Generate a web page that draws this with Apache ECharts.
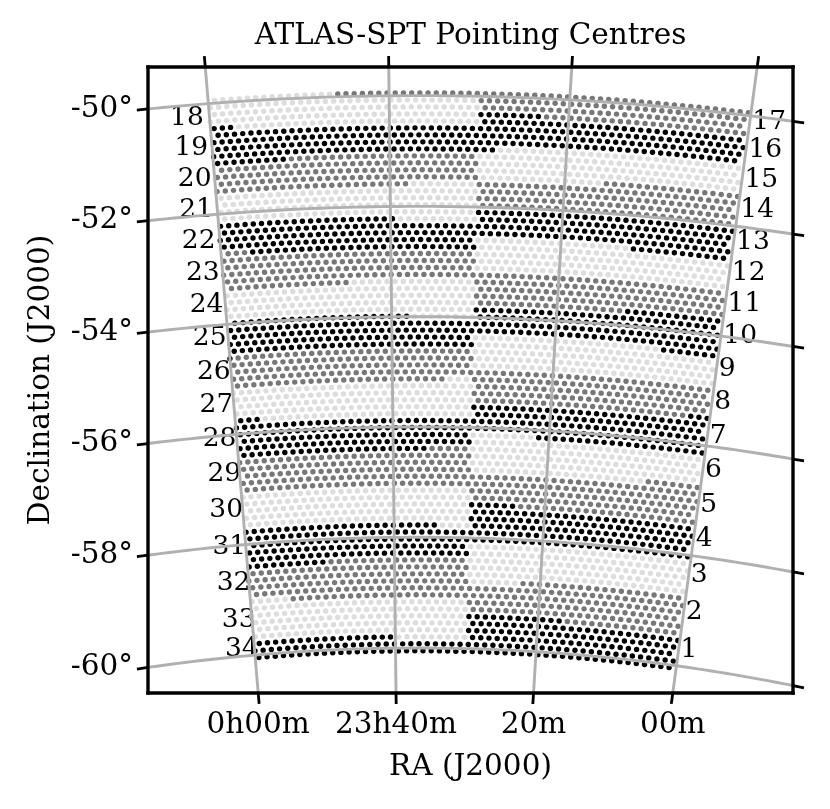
<!DOCTYPE html>
<html><head><meta charset="utf-8">
<style>html,body{margin:0;padding:0;background:#fff}#c{width:830px;height:809px}</style>
<script src="https://cdn.jsdelivr.net/npm/echarts@6/dist/echarts.min.js"></script>
</head><body><div id="c"></div>
<script>
// ---- data ----
const titleText = 'ATLAS-SPT Pointing Centres';
const raTicks = [360, 355, 350, 345];
const raTickLabels = ['0h00m', '23h40m', '20m', '00m'];
const decTicks = [-50, -52, -54, -56, -58, -60];
const decTickLabels = ['-50°', '-52°', '-54°', '-56°', '-58°', '-60°'];
// pointing rows: [first row, last row, shade] K black, G grey, L light
const leftBands = [[0,4,'L'],[5,8,'K'],[9,13,'G'],[14,17,'L'],[18,22,'K'],[23,27,'G'],[28,31,'L'],[32,36,'K'],[37,41,'G'],[42,46,'L'],[47,51,'K'],[52,56,'G'],[57,61,'L'],[62,66,'K'],[67,72,'G'],[73,77,'L'],[78,80,'K']];
const rightBands = [[0,3,'G'],[4,8,'K'],[9,12,'L'],[13,16,'G'],[17,21,'K'],[22,25,'L'],[26,30,'G'],[31,34,'K'],[35,39,'L'],[40,44,'G'],[45,49,'K'],[50,54,'L'],[55,59,'G'],[60,64,'K'],[65,69,'L'],[70,74,'G'],[75,80,'K']];
// partial rows: [row, RA from, RA to, shade]
const partialRows = [[0,352.5,356.5,'G'],[4,359.26,361,'K'],[9,358,361,'K'],[13,352.5,354.46,'L'],[18,352.5,354.85,'L'],[22,359.3,361,'G'],[27,352.5,356.3,'L'],[32,352.5,354.48,'L'],[37,359.9,361,'K'],[41,352.5,353.3,'L'],[46,359.06,361,'K'],[51,352.5,353.94,'G'],[62,352.5,353.59,'L'],[67,357.18,361,'K'],[72,358.64,361,'L'],[78,352.5,355.14,'L'],
 [3,350.74,352.5,'K'],[8,344,351.97,'L'],[12,344,348.82,'G'],[21,348.09,352.5,'L'],[30,344,348.06,'K'],[35,344,346.87,'K'],[44,344,345.64,'K'],[49,350.53,352.5,'L'],[54,344,346.96,'G'],[59,350.9,352.5,'K'],[70,350.6,352.5,'L'],[75,344,349.07,'G']];
const rightFieldNames = ['1','2','3','4','5','6','7','8','9','10','11','12','13','14','15','16','17'];
const rightFieldDecs = [-59.71,-59.03,-58.34,-57.69,-57.07,-56.43,-55.81,-55.19,-54.59,-53.99,-53.41,-52.84,-52.28,-51.71,-51.15,-50.62,-50.11];
const leftFieldNames = ['18','19','20','21','22','23','24','25','26','27','28','29','30','31','32','33','34'];
const leftFieldDecs = [-50.25,-50.8,-51.36,-51.92,-52.48,-53.06,-53.64,-54.24,-54.86,-55.47,-56.09,-56.72,-57.37,-58.04,-58.7,-59.38,-59.89];
const leftFieldRas = [360.16,360.11,360.09,360.13,360.13,360.09,360.06,360.05,360.01,360.02,360.01,359.95,359.99,359.99,359.95,359.88,359.85];

// ---- survey lattice ----
const firstRowDec = -49.95, rowStepDec = 0.12625, rowCount = 81;
const dotStep = 0.146, raEast = 360.0, raWest = 345.05, raSplit = 352.5, raPhase = 352.56;

// ---- gnomonic projection ----
const ra0 = 354.2, dec0 = -55, D = Math.PI/180;
function proj(ra, dec) {
  const a=(ra-ra0)*D, d=dec*D, d0=dec0*D;
  const c = Math.sin(d)*Math.sin(d0)+Math.cos(d)*Math.cos(d0)*Math.cos(a);
  const x = -Math.cos(d)*Math.sin(a)/c;
  const y = (Math.sin(d)*Math.cos(d0)-Math.cos(d)*Math.sin(d0)*Math.cos(a))/c;
  return [x/D, y/D];
}
const xMin=-4.821, xMax=6.696, yMin=-5.829, yMax=5.532, tickLen=0.2;

// shade lookup
function shade(k, ra) {
  for (const p of partialRows) if (p[0]===k && ra>=p[1] && ra<p[2]) return p[3];
  const bands = ra>=raSplit ? leftBands : rightBands;
  for (const b of bands) if (k>=b[0] && k<=b[1]) return b[2];
  return 'L';
}
const dots = {K:[],G:[],L:[]};
for (let k=0;k<rowCount;k++){
  const dec = firstRowDec-k*rowStepDec, step = dotStep/Math.cos(dec*D);
  const start = raPhase+(k%2?step/2:0);
  for (let i=-60;i<=60;i++){
    const ra = start+i*step;
    if (ra<raWest||ra>raEast) continue;
    dots[shade(k,ra)].push(proj(ra,dec));
  }
}
function lineSeries(data,color,width,z,clip){
  return {type:'line',data,symbol:'none',silent:true,clip,z,animation:false,lineStyle:{color,width,cap:'butt',join:'miter',opacity:1}};
}
function dotSeries(data,color){
  return {type:'scatter',data,symbol:'circle',symbolSize:5.4,itemStyle:{color,opacity:1},silent:true,z:3,animation:false,progressive:0,large:false};
}
const series=[dotSeries(dots.L,'#dddddd'),dotSeries(dots.G,'#777777'),dotSeries(dots.K,'#000000')];

function crossings(pts,test){
  const out=[];
  for(let i=1;i<pts.length;i++){
    const a=test(pts[i-1]),b=test(pts[i]);
    if(a*b<=0&&a!==b){
      const t=a/(a-b);
      const p=[pts[i-1][0]+t*(pts[i][0]-pts[i-1][0]),pts[i-1][1]+t*(pts[i][1]-pts[i-1][1])];
      const dx=pts[i][0]-pts[i-1][0],dy=pts[i][1]-pts[i-1][1],l=Math.hypot(dx,dy);
      out.push({p,dir:[dx/l,dy/l]});
    }
  }
  return out;
}
const tickSegs=[];
function addTick(c,sign){tickSegs.push([c.p[0],c.p[1],c.p[0]+sign*c.dir[0]*tickLen,c.p[1]+sign*c.dir[1]*tickLen]);}
const decAxisPos=[], raAxisPos=[];
for(const dec of decTicks){
  const pts=[];for(let r=366;r>=338;r-=0.25)pts.push(proj(r,dec));
  series.push(lineSeries(pts,'#b0b0b0',2.9,5,true));
  const L=crossings(pts,p=>p[0]-xMin)[0],R=crossings(pts,p=>p[0]-xMax)[0];
  decAxisPos.push(L.p[1]);
  addTick(L,-1);addTick(R,1);
}
for(const ra of raTicks){
  const pts=[];for(let d=-64;d<=-46;d+=0.25)pts.push(proj(ra,d));
  series.push(lineSeries(pts,'#b0b0b0',2.9,5,true));
  const B=crossings(pts,p=>p[1]-yMin)[0],T=crossings(pts,p=>p[1]-yMax)[0];
  raAxisPos.push(B.p[0]);
  addTick(B,-1);addTick(T,1);
}
function segSeries(data,width,z,cap){
  return {type:'custom',coordinateSystem:'cartesian2d',data,clip:false,silent:true,z,animation:false,encode:{x:[0,2],y:[1,3]},
    renderItem:(params,api)=>{
      const a=api.coord([api.value(0),api.value(1)]),b=api.coord([api.value(2),api.value(3)]);
      return {type:'line',shape:{x1:a[0],y1:a[1],x2:b[0],y2:b[1]},style:{stroke:'#000',lineWidth:width,lineCap:cap}};
    }};
}
series.push(segSeries(tickSegs,2.8,6,'butt'));
series.push(segSeries([[xMin,yMin,xMax,yMin],[xMax,yMin,xMax,yMax],[xMax,yMax,xMin,yMax],[xMin,yMax,xMin,yMin]],3.4,7,'square'));

// field numbers
const FONT='"DejaVu Serif"';
function labelSeries(names,decs,ras,pos){
  return {type:'scatter',symbolSize:0,silent:true,z:1,animation:false,itemStyle:{opacity:1},
    data:names.map((n,i)=>({value:proj(ras[i],decs[i]),name:n})),
    label:{show:true,position:pos,distance:0,formatter:p=>p.name,fontFamily:FONT,fontSize:26.5,color:'#000',opacity:1}};
}
series.push(labelSeries(rightFieldNames,rightFieldDecs,rightFieldNames.map(()=>344.93),'right'));
series.push(labelSeries(leftFieldNames,leftFieldDecs,leftFieldRas,'left'));

const chart=echarts.init(document.getElementById('c'),null,{renderer:'canvas'});
chart.setOption({
  animation:false,
  backgroundColor:'#fff',
  title:{text:titleText,left:470.5,top:21,padding:0,textAlign:'center',textStyle:{fontFamily:FONT,fontSize:29.5,fontWeight:'normal',color:'#000'}},
  grid:{left:148,right:37,top:67,bottom:116,containLabel:false,show:false},
  xAxis:{type:'value',min:xMin,max:xMax,name:'RA (J2000)',nameLocation:'middle',nameGap:59,
    nameTextStyle:{fontFamily:FONT,fontSize:29.5,color:'#000'},
    axisLine:{show:false},axisTick:{show:false},splitLine:{show:false},
    axisLabel:{customValues:raAxisPos,margin:17,fontFamily:FONT,fontSize:29.5,color:'#000',hideOverlap:false,
      formatter:(v)=>raTickLabels[raAxisPos.findIndex(p=>Math.abs(p-v)<1e-6)]}},
  yAxis:{type:'value',min:yMin,max:yMax,name:'Declination (J2000)',nameLocation:'middle',nameGap:92,
    nameTextStyle:{fontFamily:FONT,fontSize:29.5,color:'#000'},
    axisLine:{show:false},axisTick:{show:false},splitLine:{show:false},
    axisLabel:{customValues:decAxisPos,margin:15,fontFamily:FONT,fontSize:29.5,color:'#000',hideOverlap:false,
      formatter:(v)=>decTickLabels[decAxisPos.findIndex(p=>Math.abs(p-v)<1e-6)]}},
  series
});
</script></body></html>
